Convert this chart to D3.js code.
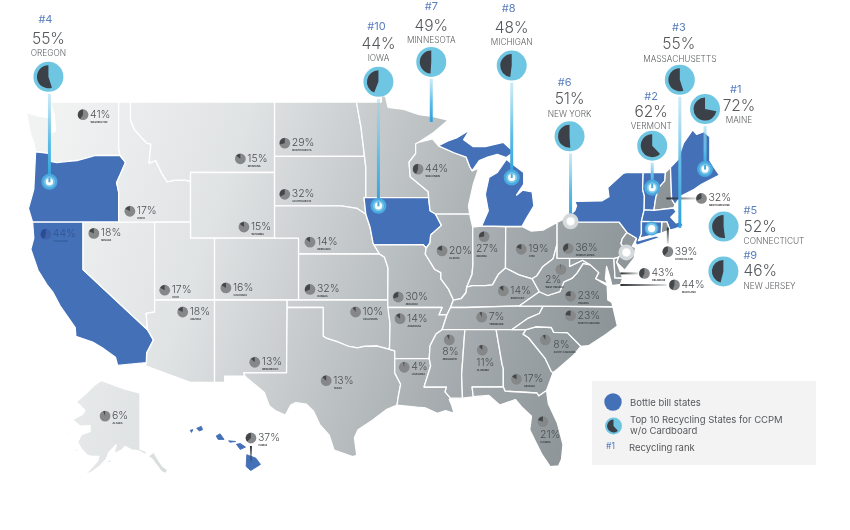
<!DOCTYPE html>
<html>
<head>
<meta charset="utf-8">
<script src="https://cdn.jsdelivr.net/npm/d3@7/dist/d3.min.js"></script>
<style>
  html, body { margin: 0; padding: 0; background: #fff; }
  svg { display: block; font-family: Inter, "Noto Sans", sans-serif; filter: blur(0.45px); }
</style>
</head>
<body>
<svg id="chart" width="850" height="530"></svg>
<script>
// Recycling rate per state
const smallStates = ['WASHINGTON','MONTANA','NORTH DAKOTA','SOUTH DAKOTA','WYOMING','NEBRASKA','IDAHO','NEVADA','CALIFORNIA','UTAH','COLORADO','KANSAS','ARIZONA','NEW MEXICO','OKLAHOMA','TEXAS','MISSOURI','ARKANSAS','LOUISIANA','WISCONSIN','ILLINOIS','INDIANA','OHIO','PENNSYLVANIA','KENTUCKY','WEST VIRGINIA','VIRGINIA','NORTH CAROLINA','TENNESSEE','MISSISSIPPI','ALABAMA','GEORGIA','SOUTH CAROLINA','FLORIDA','NEW HAMPSHIRE','RHODE ISLAND','DELAWARE','MARYLAND','ALASKA','HAWAII'];
const smallValues = [41,15,29,32,15,14,17,18,44,17,16,32,18,13,10,13,30,14,4,44,20,27,19,36,14,2,23,23,7,8,11,17,8,21,32,39,43,44,6,37];
// [lon, lat] where each small pie sits
const smallAnchors = [[-120,48.3],[-106.9,45.8],[-103.2,46.7],[-103.2,43.7],[-106.6,41.7],[-101.1,40.75],[-116.1,42.67],[-119.1,41.3],[-123.1,41.25],[-113.2,37.65],[-108.1,37.8],[-101.1,37.7],[-111.7,36.2],[-105.7,32.75],[-97.3,36.2],[-99.75,31.45],[-93.75,37.2],[-93.6,35.75],[-93.25,32.4],[-92.1,45.2],[-90.1,40.2],[-86.6,41.1],[-83.5,40.3],[-79.6,40.35],[-85,37.6],[-80.2,39],[-79.4,37.25],[-79.4,35.95],[-86.8,35.85],[-89.5,34.3],[-86.75,33.6],[-83.9,31.55],[-81.5,34.3],[-81.7,28.5],[-68.5,43.45],[-71.3,40.15],[-73.25,38.75],[-70.75,38],[-155,66.2],[-155.58,21.4]];

const topStates = ['MAINE','VERMONT','MASSACHUSETTS','OREGON','CONNECTICUT','NEW YORK','MINNESOTA','MICHIGAN','NEW JERSEY','IOWA'];
const topValues = [72,62,55,55,52,51,49,48,46,44];
const topRanks = ['#1','#2','#3','#4','#5','#6','#7','#8','#9','#10'];
const topAnchors = [[-68.2,45.2],[-72.6,44.1],[-70.3,41.65],[-122.8,44.45],[-72.65,41.6],[-79.4,42.05],[-91,47.9],[-84.3,44.7],[-74.75,40.1],[-95.4,43]];

const bottleBill = ['OR','CA','IA','MI','NY','VT','ME','MA','CT','HI'];

const legendItems = ['Bottle bill states','Top 10 Recycling States for CCPM','w/o Cardboard','Recycling rank'];

// state outlines, [lon, lat]
const outlines = {
  WA: [[[-124.7,48.4],[-123.2,48.15],[-122.75,48.15],[-122.6,47.3],[-122.3,47.4],[-122.4,48.3],[-122.75,49],[-117.03,49],[-117.04,46.42],[-116.92,45.99],[-118.98,46],[-119.3,45.93],[-120.5,45.7],[-121.2,45.65],[-122.2,45.58],[-122.7,45.65],[-122.8,46.1],[-123.2,46.15],[-123.95,46.2],[-124.1,46.7],[-124.4,47.3]]],
  OR: [[[-124.55,42.84],[-124.1,44],[-123.95,46.2],[-123.2,46.15],[-122.8,46.1],[-122.7,45.65],[-122.2,45.58],[-121.2,45.65],[-120.5,45.7],[-119.3,45.93],[-118.98,46],[-116.92,45.99],[-116.46,45.6],[-116.85,44.95],[-117.2,44.4],[-117.03,43.83],[-117.03,42],[-124.2,42]]],
  CA: [[[-124.2,42],[-120,42],[-120,39],[-114.63,35],[-114.14,34.3],[-114.7,33.4],[-114.72,32.72],[-117.12,32.53],[-117.3,33.1],[-118.4,33.75],[-119.2,34.15],[-120.6,34.55],[-120.65,35.15],[-121.9,36.6],[-122.5,37.5],[-123,38],[-123.75,38.95],[-124.35,40.3],[-124.1,41]]],
  NV: [[[-120,42],[-114.04,42],[-114.04,36.2],[-114.75,36.1],[-114.63,35],[-120,39]]],
  ID: [[[-117.03,49],[-116.05,49],[-116.05,48],[-115.7,47.45],[-114.7,46.7],[-114.35,46.65],[-114.5,45.55],[-113.95,45.7],[-113.45,44.95],[-113,44.45],[-112.3,44.55],[-111.5,44.55],[-111.05,44.48],[-111.05,42],[-117.03,42],[-117.03,43.83],[-117.2,44.4],[-116.85,44.95],[-116.46,45.6],[-116.92,45.99],[-117.04,46.42]]],
  MT: [[[-116.05,49],[-104.05,49],[-104.05,45],[-111.05,45],[-111.05,44.48],[-111.5,44.55],[-112.3,44.55],[-113,44.45],[-113.45,44.95],[-113.95,45.7],[-114.5,45.55],[-114.35,46.65],[-114.7,46.7],[-115.7,47.45],[-116.05,48]]],
  WY: [[[-111.05,45],[-104.05,45],[-104.05,41],[-111.05,41]]],
  UT: [[[-114.04,42],[-111.05,42],[-111.05,41],[-109.05,41],[-109.05,37],[-114.04,37]]],
  CO: [[[-109.05,41],[-102.05,41],[-102.05,37],[-109.05,37]]],
  AZ: [[[-114.04,37],[-109.05,37],[-109.05,31.33],[-111.07,31.33],[-114.81,32.5],[-114.72,32.72],[-114.7,33.4],[-114.14,34.3],[-114.63,35],[-114.75,36.1],[-114.04,36.2]]],
  NM: [[[-109.05,37],[-103,37],[-103.05,32],[-106.62,32],[-106.53,31.78],[-108.2,31.78],[-108.2,31.33],[-109.05,31.33]]],
  ND: [[[-104.05,49],[-97.23,49],[-96.85,47.6],[-96.56,45.94],[-104.05,45.94]]],
  SD: [[[-104.05,45.94],[-96.56,45.94],[-96.45,45.3],[-96.45,43.5],[-96.6,43.5],[-96.45,42.49],[-97.2,42.85],[-98.5,43],[-104.05,43]]],
  NE: [[[-104.05,43],[-98.5,43],[-97.2,42.85],[-96.45,42.49],[-96.1,41.7],[-95.85,40.7],[-95.31,40],[-102.05,40],[-102.05,41],[-104.05,41]]],
  KS: [[[-102.05,40],[-95.31,40],[-94.9,39.8],[-94.6,39.1],[-94.62,37],[-102.05,37]]],
  OK: [[[-103,37],[-94.62,37],[-94.43,35.4],[-94.48,33.64],[-95.5,33.88],[-96.6,33.85],[-97.15,33.75],[-97.95,33.88],[-98.9,34.2],[-99.7,34.4],[-100,34.56],[-100,36.5],[-103,36.5]]],
  TX: [[[-106.62,32],[-103.05,32],[-103,36.5],[-100,36.5],[-100,34.56],[-99.7,34.4],[-98.9,34.2],[-97.95,33.88],[-97.15,33.75],[-96.6,33.85],[-95.5,33.88],[-94.48,33.64],[-94.04,33.55],[-94.04,32],[-93.55,31.2],[-93.75,30.3],[-93.85,29.7],[-94.7,29.4],[-95.9,28.6],[-97.1,27.9],[-97.4,27.3],[-97.2,26],[-97.55,25.9],[-99.1,26.4],[-99.5,27.5],[-100.3,28.3],[-100.8,29.25],[-101.4,29.77],[-102.3,29.88],[-102.7,29.7],[-103.15,28.98],[-104,29.3],[-104.5,29.65],[-104.9,30.6],[-106.5,31.75]]],
  MN: [[[-97.23,49],[-95.15,49],[-95.15,49.38],[-94.8,49.3],[-94.6,48.7],[-93.3,48.6],[-92,48.3],[-90.8,48.2],[-89.6,48],[-90.8,47.3],[-92.05,46.75],[-92.3,46.65],[-92.3,46.1],[-92.85,45.6],[-92.75,44.75],[-91.25,43.85],[-91.22,43.5],[-96.45,43.5],[-96.45,45.3],[-96.56,45.94],[-96.85,47.6]]],
  IA: [[[-96.6,43.5],[-91.22,43.5],[-91.1,42.7],[-90.65,42.5],[-90.15,41.8],[-91.05,41.2],[-91.1,40.7],[-91.42,40.38],[-91.7,40.6],[-95.77,40.58],[-95.85,40.7],[-96.1,41.7],[-96.45,42.49]]],
  MO: [[[-95.77,40.58],[-91.7,40.6],[-91.42,40.38],[-91.5,40],[-90.7,39],[-90.2,38.8],[-90.2,38.4],[-89.55,37.7],[-89.15,37],[-89.4,36.5],[-89.7,36],[-90.37,36],[-90.1,36.5],[-94.62,36.5],[-94.62,37],[-94.6,39.1],[-94.9,39.8],[-95.31,40]]],
  AR: [[[-94.62,36.5],[-90.1,36.5],[-90.37,36],[-89.7,36],[-90.1,35],[-90.6,34.7],[-91.1,33.9],[-91.17,33],[-94.04,33],[-94.04,33.55],[-94.48,33.64],[-94.43,35.4]]],
  LA: [[[-94.04,33],[-91.17,33],[-91.05,32.5],[-91.6,31],[-89.73,31],[-89.85,30.65],[-89.4,30.2],[-89.5,30.1],[-89.3,29.7],[-89.1,29.1],[-89.8,29.3],[-90.5,29.1],[-91.5,29.5],[-92.2,29.55],[-93.85,29.7],[-93.75,30.3],[-93.55,31.2],[-94.04,32]]],
  WI: [[[-90.4,46.55],[-89.1,46.15],[-88.1,45.9],[-87.8,45.35],[-87.6,45.1],[-87.05,45.25],[-87.5,44.3],[-87.9,43],[-87.8,42.49],[-90.65,42.5],[-91.1,42.7],[-91.22,43.5],[-91.25,43.85],[-92.75,44.75],[-92.85,45.6],[-92.3,46.1],[-92.3,46.65],[-92.05,46.75],[-90.9,46.95]]],
  IL: [[[-90.65,42.5],[-87.8,42.49],[-87.55,41.7],[-87.53,39.35],[-87.6,38.7],[-88.05,37.85],[-88.1,37.5],[-88.5,37.1],[-89.15,37],[-89.55,37.7],[-90.2,38.4],[-90.2,38.8],[-90.7,39],[-91.5,40],[-91.42,40.38],[-91.1,40.7],[-91.05,41.2],[-90.15,41.8]]],
  IN: [[[-87.55,41.7],[-86.85,41.76],[-84.8,41.73],[-84.82,39.1],[-85.4,38.7],[-85.9,38],[-86.5,37.95],[-87.55,37.95],[-88.05,37.85],[-87.6,38.7],[-87.53,39.35]]],
  OH: [[[-84.8,41.73],[-83.45,41.73],[-82.7,41.45],[-81.7,41.5],[-80.52,41.98],[-80.52,40.64],[-80.85,39.7],[-81.7,39.2],[-82.2,38.6],[-82.6,38.4],[-83.7,38.65],[-84.82,39.1]]],
  KY: [[[-89.4,36.5],[-89.15,37],[-88.5,37.1],[-88.1,37.5],[-88.05,37.85],[-87.55,37.95],[-86.5,37.95],[-85.9,38],[-85.4,38.7],[-84.82,39.1],[-83.7,38.65],[-82.6,38.4],[-82,37.55],[-83.68,36.6],[-88.07,36.5]]],
  TN: [[[-90.1,35],[-89.7,36],[-89.4,36.5],[-88.07,36.5],[-83.68,36.6],[-81.68,36.59],[-82,36.1],[-83,35.75],[-84.3,35]]],
  MS: [[[-91.17,33],[-91.1,33.9],[-90.6,34.7],[-90.1,35],[-88.2,35],[-88.47,31.9],[-88.4,30.2],[-89.4,30.2],[-89.85,30.65],[-89.73,31],[-91.6,31],[-91.05,32.5]]],
  AL: [[[-88.2,35],[-85.6,35],[-85.1,32.6],[-85,32.3],[-85,31],[-87.6,31],[-87.5,30.3],[-88.4,30.2],[-88.47,31.9]]],
  GA: [[[-85.6,35],[-83.1,35],[-83.35,34.7],[-82.9,34.45],[-81.5,33],[-81,32.1],[-80.85,32.03],[-81.4,30.75],[-82.05,30.36],[-82.2,30.57],[-84.85,30.7],[-85,31],[-85,32.3],[-85.1,32.6]]],
  FL: [[[-87.6,31],[-85,31],[-84.85,30.7],[-82.2,30.57],[-82.05,30.36],[-81.4,30.75],[-81.25,29.8],[-80.5,28.4],[-80.03,26.8],[-80.15,25.7],[-80.4,25.2],[-81.1,25.15],[-81.8,26.1],[-82.25,26.9],[-82.8,27.9],[-82.65,28.9],[-83.4,29.5],[-84,30.1],[-85.3,29.7],[-86.2,30.4],[-87.5,30.3]]],
  SC: [[[-83.35,34.7],[-83.1,35],[-82.3,35.2],[-81,35.15],[-80.8,34.82],[-79.67,34.8],[-78.55,33.86],[-79.2,33.2],[-80.45,32.3],[-80.85,32.03],[-81,32.1],[-81.5,33],[-82.9,34.45]]],
  NC: [[[-84.3,35],[-83,35.75],[-82,36.1],[-81.68,36.59],[-75.87,36.55],[-75.5,35.25],[-76.5,34.65],[-77.9,33.9],[-78.55,33.86],[-79.67,34.8],[-80.8,34.82],[-81,35.15],[-82.3,35.2],[-83.1,35]]],
  VA: [[[-83.68,36.6],[-82,37.55],[-81.3,37.3],[-80.3,37.55],[-79.95,38.2],[-79.3,38.42],[-78.87,38.77],[-78.35,39.4],[-77.75,39.3],[-77.05,38.8],[-77.3,38.4],[-76.35,37.95],[-76.3,37],[-75.97,36.85],[-75.87,36.55],[-81.68,36.59]]],
  WV: [[[-82,37.55],[-82.6,38.4],[-82.2,38.6],[-81.7,39.2],[-80.85,39.7],[-80.52,40.64],[-80.52,39.72],[-79.48,39.72],[-79.48,39.2],[-78.4,39.6],[-77.75,39.3],[-78.35,39.4],[-78.87,38.77],[-79.3,38.42],[-79.95,38.2],[-80.3,37.55],[-81.3,37.3]]],
  MD: [[[-79.48,39.72],[-75.79,39.72],[-75.7,38.46],[-75.05,38.45],[-75.25,38.03],[-75.95,37.95],[-76.2,38.7],[-76.4,39.2],[-76.5,38.4],[-76.3,38.05],[-77.3,38.4],[-77.05,38.8],[-77.75,39.3],[-78.4,39.6],[-79.48,39.2]]],
  DE: [[[-75.79,39.72],[-75.4,39.8],[-75.55,39.45],[-75.05,38.45],[-75.7,38.46]]],
  PA: [[[-80.52,41.98],[-79.76,42.27],[-79.76,42],[-75.35,42],[-74.7,41.36],[-75.1,40.95],[-75.2,40.65],[-74.72,40.15],[-75.4,39.8],[-75.79,39.72],[-80.52,39.72],[-80.52,40.64]]],
  NJ: [[[-74.7,41.36],[-73.9,41],[-74.25,40.5],[-74,40.4],[-74.1,39.75],[-74.9,38.95],[-75.55,39.45],[-75.4,39.8],[-74.72,40.15],[-75.2,40.65],[-75.1,40.95]]],
  NY: [[[-79.76,42.27],[-79.05,42.7],[-78.9,43],[-79.05,43.27],[-76.8,43.3],[-76.2,43.55],[-76.3,44.1],[-75,44.95],[-74.7,45],[-73.35,45],[-73.4,44],[-73.25,43.6],[-73.27,42.75],[-73.5,42.05],[-73.5,41.3],[-73.65,41],[-73.75,40.85],[-72.3,41.15],[-71.9,41.05],[-73.9,40.55],[-74,40.7],[-73.9,41],[-74.7,41.36],[-75.35,42],[-79.76,42]]],
  VT: [[[-73.35,45],[-71.5,45],[-71.55,44.5],[-72.05,44.1],[-72.3,43.5],[-72.46,42.73],[-73.27,42.75],[-73.25,43.6],[-73.4,44]]],
  NH: [[[-71.5,45],[-71.08,45.3],[-70.98,43.4],[-70.7,43.07],[-70.82,42.87],[-72.46,42.73],[-72.3,43.5],[-72.05,44.1],[-71.55,44.5]]],
  ME: [[[-71.08,45.3],[-70.4,45.8],[-70.25,46.2],[-70,46.7],[-69.23,47.46],[-68.9,47.2],[-68.3,47.35],[-67.8,47.07],[-67.8,45.7],[-67.45,45.3],[-67,44.85],[-68.5,44.3],[-69.1,44],[-70.2,43.6],[-70.7,43.07],[-70.98,43.4]]],
  MA: [[[-73.27,42.75],[-72.46,42.73],[-70.82,42.87],[-70.6,42.65],[-71.05,42.3],[-70.6,41.95],[-70.25,42.05],[-70,41.8],[-70.65,41.6],[-71.12,41.5],[-71.38,42.02],[-71.8,42.02],[-73.5,42.05]]],
  RI: [[[-71.8,42.02],[-71.38,42.02],[-71.12,41.5],[-71.85,41.32]]],
  CT: [[[-73.5,42.05],[-71.8,42.02],[-71.85,41.32],[-73.65,41],[-73.5,41.3]]],
  MI: [[[-86.8,41.76],[-84.8,41.73],[-83.45,41.73],[-83.1,42.2],[-82.45,43],[-82.6,43.85],[-83.4,43.95],[-83.9,43.65],[-83.3,44.3],[-83.3,45],[-84.75,45.77],[-85.5,45],[-86.2,44.7],[-86.5,43.7],[-86.25,42.7]],
       [[-90.4,46.55],[-89.1,46.15],[-88.1,45.9],[-87.8,45.35],[-87.6,45.1],[-87,45.7],[-86.3,45.9],[-85.5,46.05],[-84.75,45.87],[-84.1,46.2],[-84.6,46.5],[-85,46.75],[-86.5,46.5],[-87.5,46.5],[-88.3,46.9],[-87.8,47.45],[-88.9,47],[-89.6,46.83]]],
  AK: [[[-141,69.65],[-141,60.3],[-139,59.9],[-137.5,58.9],[-135.5,59.7],[-133.5,57.9],[-131.8,56.6],[-130,55.9],[-130.5,55],[-132.5,55.5],[-134.5,57],[-136.2,58.2],[-138.5,59.1],[-141.5,59.9],[-144.5,60.1],[-147,60.8],[-148.5,60],[-151.5,59.3],[-150.5,61.1],[-153.5,59.6],[-154.5,58.2],[-157,56.8],[-160,55.5],[-163.5,54.7],[-161,56],[-158,57.8],[-157.5,58.8],[-160,58.8],[-162,59],[-164.5,60.3],[-166,61.6],[-164.5,63],[-161,63.6],[-161,64.6],[-165,64.5],[-168,65.6],[-164,66.5],[-163,67.1],[-166.5,68.4],[-163,69.5],[-159,70.8],[-156.5,71.35],[-152,70.8],[-147,70.2]],
       [[-154.6,57.4],[-152.6,57.5],[-152.5,58.2],[-153.8,57.9]],
       [[-171.5,63.4],[-169,63.3],[-168.5,63.1],[-170.5,63.05]],
       [[-167.2,60.2],[-165.6,60.3],[-165.8,59.9],[-166.8,59.85]]],
  HI: [[[-155.9,20.2],[-155.2,19.95],[-154.85,19.5],[-155.6,19.05],[-155.95,19.35]],
       [[-156.7,20.95],[-156.4,21],[-156,20.75],[-156.4,20.58]],
       [[-157.3,21.2],[-156.75,21.15],[-157.2,21.1]],
       [[-158.25,21.55],[-157.95,21.7],[-157.65,21.3],[-158.1,21.3]],
       [[-159.75,22.1],[-159.4,22.23],[-159.3,22],[-159.55,21.9]],
       [[-160.25,21.95],[-160.05,22],[-160.15,21.8]]]
};

const width = 850, height = 530;
const svg = d3.select('#chart').attr('width', width).attr('height', height);

// main map + the two insets
const projection = d3.geoMercator().scale(688).center([-124.5, 49]).translate([29, 102]);
const akProjection = d3.geoMercator().scale(143).center([-141, 71.4]).translate([140, 380]);
const hiProjection = d3.geoMercator().scale(745).center([-155.5, 19.6]).translate([252, 463]);
const projFor = key => key === 'AK' || key === 'ALASKA' ? akProjection : key === 'HI' || key === 'HAWAII' ? hiProjection : projection;

const BLUE = '#4470b8';
const SKY = '#6fc6e2';
const DARK = '#3c4149';

const defs = svg.append('defs');
const mapGrad = defs.append('linearGradient').attr('id', 'mapFill')
  .attr('gradientUnits', 'userSpaceOnUse')
  .attr('x1', 60).attr('y1', 100).attr('x2', 640).attr('y2', 300);
[[0, '#f1f3f3'], [0.3, '#e0e3e4'], [0.6, '#b9bec0'], [0.75, '#a5abae'], [1, '#8a9295']]
  .forEach(([o, c]) => mapGrad.append('stop').attr('offset', o).attr('stop-color', c));

// states
const line = d3.line();
svg.append('g').selectAll('path')
  .data(Object.keys(outlines))
  .join('path')
  .attr('d', key => outlines[key].map(r => line(r.map(projFor(key))) + 'Z').join(''))
  .attr('fill', key => bottleBill.includes(key) ? BLUE : 'url(#mapFill)')
  .attr('stroke', key => key === 'HI' ? BLUE : '#fff')
  .attr('stroke-width', key => key === 'HI' ? 0.9 : 1.3)
  .attr('stroke-linejoin', 'round');

// counter-clockwise wedge from 12 o'clock, as in the source
const pie = d3.pie().sort(null).startAngle(0).endAngle(-2 * Math.PI);

function drawPie(g, value, r, wedgeR, base, wedge) {
  g.append('circle').attr('r', r).attr('fill', base);
  g.append('path')
    .attr('d', d3.arc().innerRadius(0).outerRadius(wedgeR)(pie([value, 100 - value])[0]))
    .attr('fill', wedge);
}

// leader lines for the small New England / mid-Atlantic states, fade away from the state
const leaderStates = { 'NEW HAMPSHIRE': [-35, 0, -5, 0], 'RHODE ISLAND': [0, -24, 0, -8], 'DELAWARE': [-24, 0, -6, 0], 'MARYLAND': [-54, 0, -8, 0], 'HAWAII': [0, 8, 0, 24] };
Object.entries(leaderStates).forEach(([name, [x1, y1, x2, y2]], i) => {
  const idx = smallStates.indexOf(name);
  const [px, py] = projFor(name)(smallAnchors[idx]);
  const grad = defs.append('linearGradient').attr('id', 'lead' + i).attr('gradientUnits', 'userSpaceOnUse')
    .attr('x1', px + x1).attr('y1', py + y1).attr('x2', px + x2).attr('y2', py + y2);
  grad.append('stop').attr('offset', 0).attr('stop-color', '#2c3034');
  grad.append('stop').attr('offset', 1).attr('stop-color', '#2c3034').attr('stop-opacity', 0.15);
  svg.append('line')
    .attr('x1', px + x1).attr('y1', py + y1).attr('x2', px + x2).attr('y2', py + y2)
    .attr('stroke', `url(#lead${i})`).attr('stroke-width', 2);
});

// small pies and labels. label placement: [dx, baseline dy] from pie centre
const stacked = { 'INDIANA': [-8, 15], 'MISSISSIPPI': [-7, 15], 'ALABAMA': [-6, 16], 'FLORIDA': [-3, 16], 'WEST VIRGINIA': [-16, 13], 'SOUTH CAROLINA': [8, 8] };
smallStates.forEach((name, i) => {
  const [x, y] = projFor(name)(smallAnchors[i]);
  const g = svg.append('g').attr('transform', `translate(${x},${y})`);
  const onBlue = name === 'CALIFORNIA';
  drawPie(g, smallValues[i], 5.4, 5.1, onBlue ? '#3d62a8' : '#858788', onBlue ? '#2a4d94' : '#43474a');
  const [dx, dy] = stacked[name] || [7, 3];
  g.append('text').attr('x', dx).attr('y', dy)
    .attr('font-size', 10.5).attr('font-weight', 300)
    .attr('fill', onBlue ? '#2f558f' : '#4c4f52')
    .text(smallValues[i] + '%');
  g.append('text').attr('x', dx + 0.5).attr('y', dy + 5)
    .attr('font-size', 2.4).attr('font-weight', 700)
    .attr('fill', onBlue ? '#2f558f' : '#33363a')
    .text(name);
});

// top 10 callouts: pie offset from anchor, line?, text x offset, text anchor, [rank, pct, name] baselines
const calloutLayout = {
  MAINE:         { dx: 0,  dy: -60,  line: true,  tx: [25, 34, 34],   anchor: ['start', 'middle', 'middle'], ty: [-16, 2, 13.5] },
  VERMONT:       { dx: 0,  dy: -42,  line: true,  tx: [-1, -1, -1],   anchor: ['middle', 'middle', 'middle'], ty: [-46, -29, -17] },
  MASSACHUSETTS: { dx: 0,  dy: -148, line: true,  tx: [-1, -1, 0],    anchor: ['middle', 'middle', 'middle'], ty: [-49, -31, -18] },
  OREGON:        { dx: -1, dy: -105, line: true,  tx: [-3, 0, 0],     anchor: ['middle', 'middle', 'middle'], ty: [-54, -33, -21] },
  CONNECTICUT:   { dx: 72, dy: -2,   line: false, tx: [20, 20, 20],   anchor: ['start', 'start', 'start'], ty: [-13, 5, 17] },
  'NEW YORK':    { dx: -1, dy: -85,  line: true,  tx: [-5, 0, 0],     anchor: ['middle', 'middle', 'middle'], ty: [-50, -32, -19] },
  MINNESOTA:     { dx: 0,  dy: -60,  line: true,  tx: [0, 0, 0],      anchor: ['middle', 'middle', 'middle'], ty: [-52, -31, -18.5] },
  MICHIGAN:      { dx: 0,  dy: -112, line: true,  tx: [-3, 0, 0],     anchor: ['middle', 'middle', 'middle'], ty: [-54, -33, -20.5] },
  'NEW JERSEY':  { dx: 97, dy: 19,   line: false, tx: [20, 20, 20],   anchor: ['start', 'start', 'start'], ty: [-12, 5, 18] },
  IOWA:          { dx: 0,  dy: -124, line: true,  tx: [-2, 0, 0],     anchor: ['middle', 'middle', 'middle'], ty: [-52, -33, -21] }
};

topStates.forEach((name, i) => {
  const [ax, ay] = projection(topAnchors[i]);
  const lay = calloutLayout[name];
  const px = ax + lay.dx, py = ay + lay.dy;

  if (lay.line) {
    const grad = defs.append('linearGradient').attr('id', 'call' + i).attr('gradientUnits', 'userSpaceOnUse')
      .attr('x1', ax).attr('y1', py + 15).attr('x2', ax).attr('y2', ay);
    grad.append('stop').attr('offset', 0).attr('stop-color', '#9fd8ee').attr('stop-opacity', 0.5);
    grad.append('stop').attr('offset', 0.55).attr('stop-color', '#5fbde6');
    grad.append('stop').attr('offset', 1).attr('stop-color', '#2f9fdd');
    svg.append('line').attr('x1', ax).attr('x2', ax).attr('y1', py + 17).attr('y2', ay)
      .attr('stroke', `url(#call${i})`).attr('stroke-width', 3);
  }

  // end marker on the state
  if (name !== 'MINNESOTA' && name !== 'MASSACHUSETTS') {
    const faded = name === 'NEW YORK' || name === 'NEW JERSEY';
    const m = svg.append('g').attr('transform', `translate(${ax},${ay})`);
    m.append('circle').attr('r', name === 'CONNECTICUT' ? 7 : 8).attr('fill', faded ? '#d5d9db' : '#4aa9de');
    m.append('circle').attr('r', faded ? 4.5 : 5.5).attr('fill', faded ? '#eef0f1' : '#7cc8ea');
    m.append('circle').attr('r', 3.6).attr('fill', '#fff');
    if (lay.line && !faded) {
      m.append('line').attr('x1', 0).attr('x2', 0).attr('y1', -4).attr('y2', 0.5)
        .attr('stroke', '#4aa9de').attr('stroke-width', 2);
    }
  }

  const g = svg.append('g').attr('transform', `translate(${px},${py})`);
  drawPie(g, topValues[i], 15, 11.5, SKY, DARK);

  const texts = [
    { t: topRanks[i], size: 11, fill: '#5a7fbe', weight: 400 },
    { t: topValues[i] + '%', size: 15.5, fill: '#55585b', weight: 300 },
    { t: name, size: 8.3, fill: '#5d6063', weight: 300 }
  ];
  texts.forEach((d, k) => {
    g.append('text')
      .attr('x', lay.tx[k]).attr('y', lay.ty[k])
      .attr('text-anchor', lay.anchor[k])
      .attr('font-size', d.size).attr('font-weight', d.weight)
      .attr('fill', d.fill)
      .text(d.t);
  });
});

// legend
const legend = svg.append('g').attr('transform', 'translate(592,381)');
legend.append('rect').attr('width', 224).attr('height', 84).attr('fill', '#f3f3f4');
legend.append('circle').attr('cx', 21).attr('cy', 21).attr('r', 8.7).attr('fill', BLUE);
const legendPie = legend.append('g').attr('transform', 'translate(21.5,45)');
drawPie(legendPie, 62, 8.5, 6.4, SKY, DARK);
const legendText = [[38, 25], [38, 42], [38, 53], [37, 70]];
legend.selectAll('text.item')
  .data(legendItems)
  .join('text')
  .attr('class', 'item')
  .attr('x', (d, i) => legendText[i][0])
  .attr('y', (d, i) => legendText[i][1])
  .attr('font-size', 9.5)
  .attr('fill', '#55585b')
  .text(d => d);
legend.append('text').attr('x', 14).attr('y', 68).attr('font-size', 8.5)
  .attr('fill', '#4f78bd').text(topRanks[0]);
</script>
</body>
</html>
